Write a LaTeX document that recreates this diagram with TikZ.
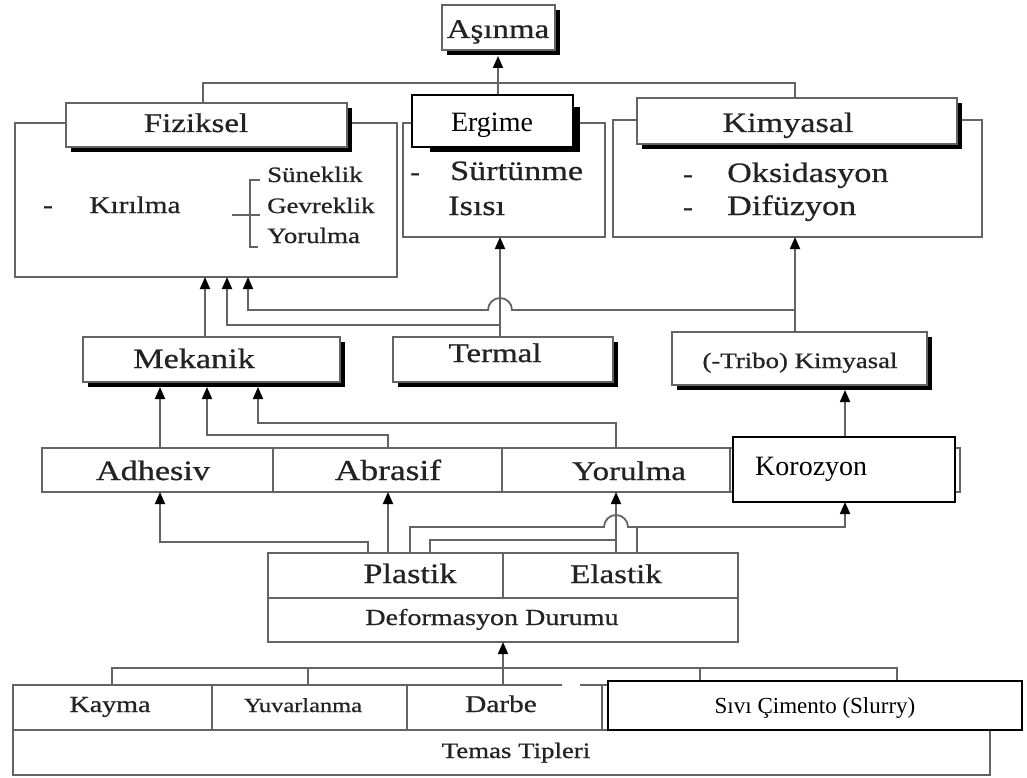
\documentclass[tikz,border=0pt]{standalone}
\usepackage{fontspec}
\setmainfont{Liberation Serif}
\newfontfamily\orig[FakeStretch=1.22,FakeBold=0.7]{Liberation Serif}
\usetikzlibrary{arrows.meta,shadows,fit}
\definecolor{lnc}{RGB}{100,100,100}
\definecolor{txc}{RGB}{35,35,35}
\begin{document}
\begin{tikzpicture}[x=1pt,y=-1pt,
  ln/.style={draw=lnc,line width=1.8pt},
  arr/.style={ln,-{Triangle[length=12pt,width=10pt,color=black]}},
  box/.style={draw=lnc,line width=1.8pt,fill=white,inner sep=0pt,outer sep=0pt},
  hdr/.style={box,drop shadow={shadow xshift=5pt,shadow yshift=-5pt,fill=black,opacity=1}},
  ovl/.style={draw=black,line width=1.5pt,fill=white,inner sep=0pt,outer sep=0pt},
  lab/.style={inner sep=0pt,anchor=base,text=txc,font=\orig\fontsize{#1}{#1}\selectfont},
  olab/.style={inner sep=0pt,anchor=base,text=black,font=\fontsize{#1}{#1}\selectfont}]
\useasboundingbox[fill=white] (0,0) rectangle (1027,778);

% ---------- top level ----------
\node[hdr,fit={(442,5)(555,50)}] (asinma) {};
\node[lab=27] (tasinma) at (498,38) {Aşınma};

% Fiziksel
\node[box,fit={(15,123)(397,277)}] (fizout) {};
\node[hdr,fit={(66,103)(347,147)}] (fizhead) {};
\node[lab=27] (tfiz) at (196,132) {Fiziksel};
\node[lab=24] (tfd) at (48,213) {-};
\node[lab=24] (tkir) at (135,213) {Kırılma};
\node[lab=22,anchor=base west] (tsun) at (267,182) {Süneklik};
\node[lab=22,anchor=base west] (tgev) at (267,213) {Gevreklik};
\node[lab=22,anchor=base west] (tyor) at (267,243) {Yorulma};
\coordinate (bt) at (250,180);
\coordinate (bb) at (250,247);
\coordinate (bl) at (232,215);
\coordinate (br) at (260,215);
\draw[ln,line width=1.4pt] ([xshift=10pt]bt) -- (bt) -- (bb) -- ([xshift=8pt]bb);
\draw[ln,line width=1.4pt] (bl) -- (br);

% Surtunme / Ergime
\node[box,fit={(403,123)(605,237)}] (surout) {};
\node[lab=24,anchor=base west] (tsd) at (410,180) {-};
\node[lab=28,anchor=base west] (tsur) at (450,180) {Sürtünme};
\node[lab=28,anchor=base west] (tisi) at (448,215) {Isısı};

% Kimyasal
\node[box,fit={(613,120)(982,237)}] (kimout) {};
\node[hdr,fit={(637,98)(957,144)}] (kimhead) {};
\node[lab=28] (tkim) at (788,132) {Kimyasal};
\node[lab=24] (tkd1) at (688,182) {-};
\node[lab=28,anchor=base west] (toks) at (727,182) {Oksidasyon};
\node[lab=24] (tkd2) at (688,215) {-};
\node[lab=28,anchor=base west] (tdif) at (727,215) {Difüzyon};

% ---------- mechanism level ----------
\node[hdr,fit={(83,337)(340,382)}] (mek) {};
\node[lab=28] (tmek) at (194,368) {Mekanik};
\node[hdr,fit={(393,337)(613,382)}] (ter) {};
\node[lab=27] (tter) at (495,362) {Termal};
\node[hdr,fit={(672,332)(927,385)}] (tri) {};
\node[lab=22] (ttri) at (800,368) {(-Tribo) Kimyasal};

% ---------- wear types ----------
\node[box,fit={(42,448)(273,492)}] (adh) {};
\node[box,fit={(273,448)(502,492)}] (abr) {};
\node[box,fit={(502,448)(730,492)}] (yor) {};
\node[box,fit={(730,448)(960,492)}] (korc) {};
\node[lab=28] (tadh) at (153,480) {Adhesiv};
\node[lab=29] (tabr) at (388,480) {Abrasif};
\node[lab=27] (tyor2) at (629,480) {Yorulma};

% ---------- deformation ----------
\node[box,fit={(268,553)(503,598)}] (pla) {};
\node[box,fit={(503,553)(738,598)}] (ela) {};
\node[box,fit={(268,598)(738,642)}] (def) {};
\node[lab=28] (tpla) at (410,583) {Plastik};
\node[lab=27] (tela) at (616,583) {Elastik};
\node[lab=23] (tdef) at (492,625) {Deformasyon Durumu};

% ---------- contact types ----------
\node[box,fit={(13,685)(212,730)}] (kay) {};
\node[box,fit={(212,685)(407,730)}] (yuv) {};
\node[box,fit={(407,685)(602,730)}] (dar) {};
\node[box,fit={(602,685)(797,730)}] (c4) {};
\node[box,fit={(797,685)(990,730)}] (c5) {};
\node[box,fit={(13,730)(990,775)}] (tem) {};
\node[lab=23] (tkay) at (110,712) {Kayma};
\node[lab=20] (tyuv) at (303,712) {Yuvarlanma};
\node[lab=24] (tdar) at (501,712) {Darbe};
\node[lab=22] (ttem) at (516,758) {Temas Tipleri};
\coordinate (g1) at (562,685);
\coordinate (g2) at (580,685);
\draw[white,line width=3pt] (g1) -- (g2);

% ---------- connectors: top ----------
\coordinate (t1) at (203,103);
\coordinate (t2) at (203,83);
\coordinate (t3) at (795,83);
\coordinate (t4) at (795,98);
\coordinate (tm) at (498,83);
\coordinate (tmd) at (498,95);
\coordinate (tas) at (498,56);
\draw[ln] (t1) -- (t2) -- (t3) -- (t4);
\draw[ln] (tm) -- (tmd);
\draw[arr] (tm) -- (tas);

% to Fiziksel / Surtunme / Kimyasal
\coordinate (m1) at (205,337);
\coordinate (m1e) at (205,277);
\draw[arr] (m1) -- (m1e);
\coordinate (th0) at (500,337);
\coordinate (th1) at (500,325);
\coordinate (th2) at (227,325);
\coordinate (th3) at (227,277);
\coordinate (th4) at (500,237);
\draw[arr] (th0) -- (th4);
\draw[arr] (th1) -- (th2) -- (th3);
\coordinate (k0) at (795,332);
\coordinate (k1) at (795,237);
\coordinate (k2) at (795,310);
\coordinate (k3) at (512,310);
\coordinate (k4) at (248,310);
\coordinate (k5) at (248,277);
\draw[arr] (k0) -- (k1);
\draw[arr] (k2) -- (k3) arc[start angle=0,end angle=-180,radius=12] -- (k4) -- (k5);

% to Mekanik / Tribo
\coordinate (a1) at (160,448);
\coordinate (a1e) at (160,387);
\draw[arr] (a1) -- (a1e);
\coordinate (b0) at (388,448);
\coordinate (b1) at (388,435);
\coordinate (b2) at (207,435);
\coordinate (b3) at (207,387);
\draw[arr] (b0) -- (b1) -- (b2) -- (b3);
\coordinate (y0) at (616,448);
\coordinate (y1) at (616,423);
\coordinate (y2) at (258,423);
\coordinate (y3) at (258,387);
\draw[arr] (y0) -- (y1) -- (y2) -- (y3);
\coordinate (r0) at (845,437);
\coordinate (r1) at (845,390);
\draw[arr] (r0) -- (r1);

% to wear types
\coordinate (p1) at (368,553);
\coordinate (p2) at (368,542);
\coordinate (p3) at (160,542);
\coordinate (p4) at (160,492);
\draw[arr] (p1) -- (p2) -- (p3) -- (p4);
\coordinate (q1) at (388,553);
\coordinate (q2) at (388,492);
\draw[arr] (q1) -- (q2);
\coordinate (s1) at (430,553);
\coordinate (s2) at (430,540);
\coordinate (s3) at (616,540);
\draw[ln] (s1) -- (s2) -- (s3);
\coordinate (e1) at (616,553);
\coordinate (e2) at (616,492);
\draw[arr] (e1) -- (e2);
\coordinate (u1) at (410,553);
\coordinate (u2) at (410,527);
\coordinate (u3) at (604,527);
\coordinate (u4) at (845,527);
\coordinate (u5) at (845,502);
\draw[arr] (u1) -- (u2) -- (u3) arc[start angle=180,end angle=360,radius=12] -- (u4) -- (u5);
\coordinate (v1) at (637,553);
\coordinate (v2) at (637,527);
\draw[ln] (v1) -- (v2);

% to deformation
\coordinate (d0) at (503,685);
\coordinate (d1) at (503,642);
\draw[arr] (d0) -- (d1);
\coordinate (h1) at (112,685);
\coordinate (h2) at (112,668);
\coordinate (h3) at (897,668);
\coordinate (h4) at (897,681);
\draw[ln] (h1) -- (h2) -- (h3) -- (h4);
\coordinate (h5) at (308,668);
\coordinate (h6) at (308,685);
\draw[ln] (h5) -- (h6);
\coordinate (h7) at (700,668);
\coordinate (h8) at (700,681);
\draw[ln] (h7) -- (h8);

% ---------- overlaid boxes ----------
\fill[black] (430,107) rectangle (580,152);
\node[ovl,fit={(412,95)(573,147)}] (erg) {};
\node[olab=28] (terg) at (492,132) {Ergime};
\node[ovl,fit={(733,437)(955,502)}] (kor) {};
\node[olab=28,anchor=base west] (tkor) at (755,475) {Korozyon};
\node[ovl,fit={(608,681)(1022,730)}] (siv) {};
\node[olab=23] (tsiv) at (815,713) {Sıvı Çimento (Slurry)};
\end{tikzpicture}
\end{document}
